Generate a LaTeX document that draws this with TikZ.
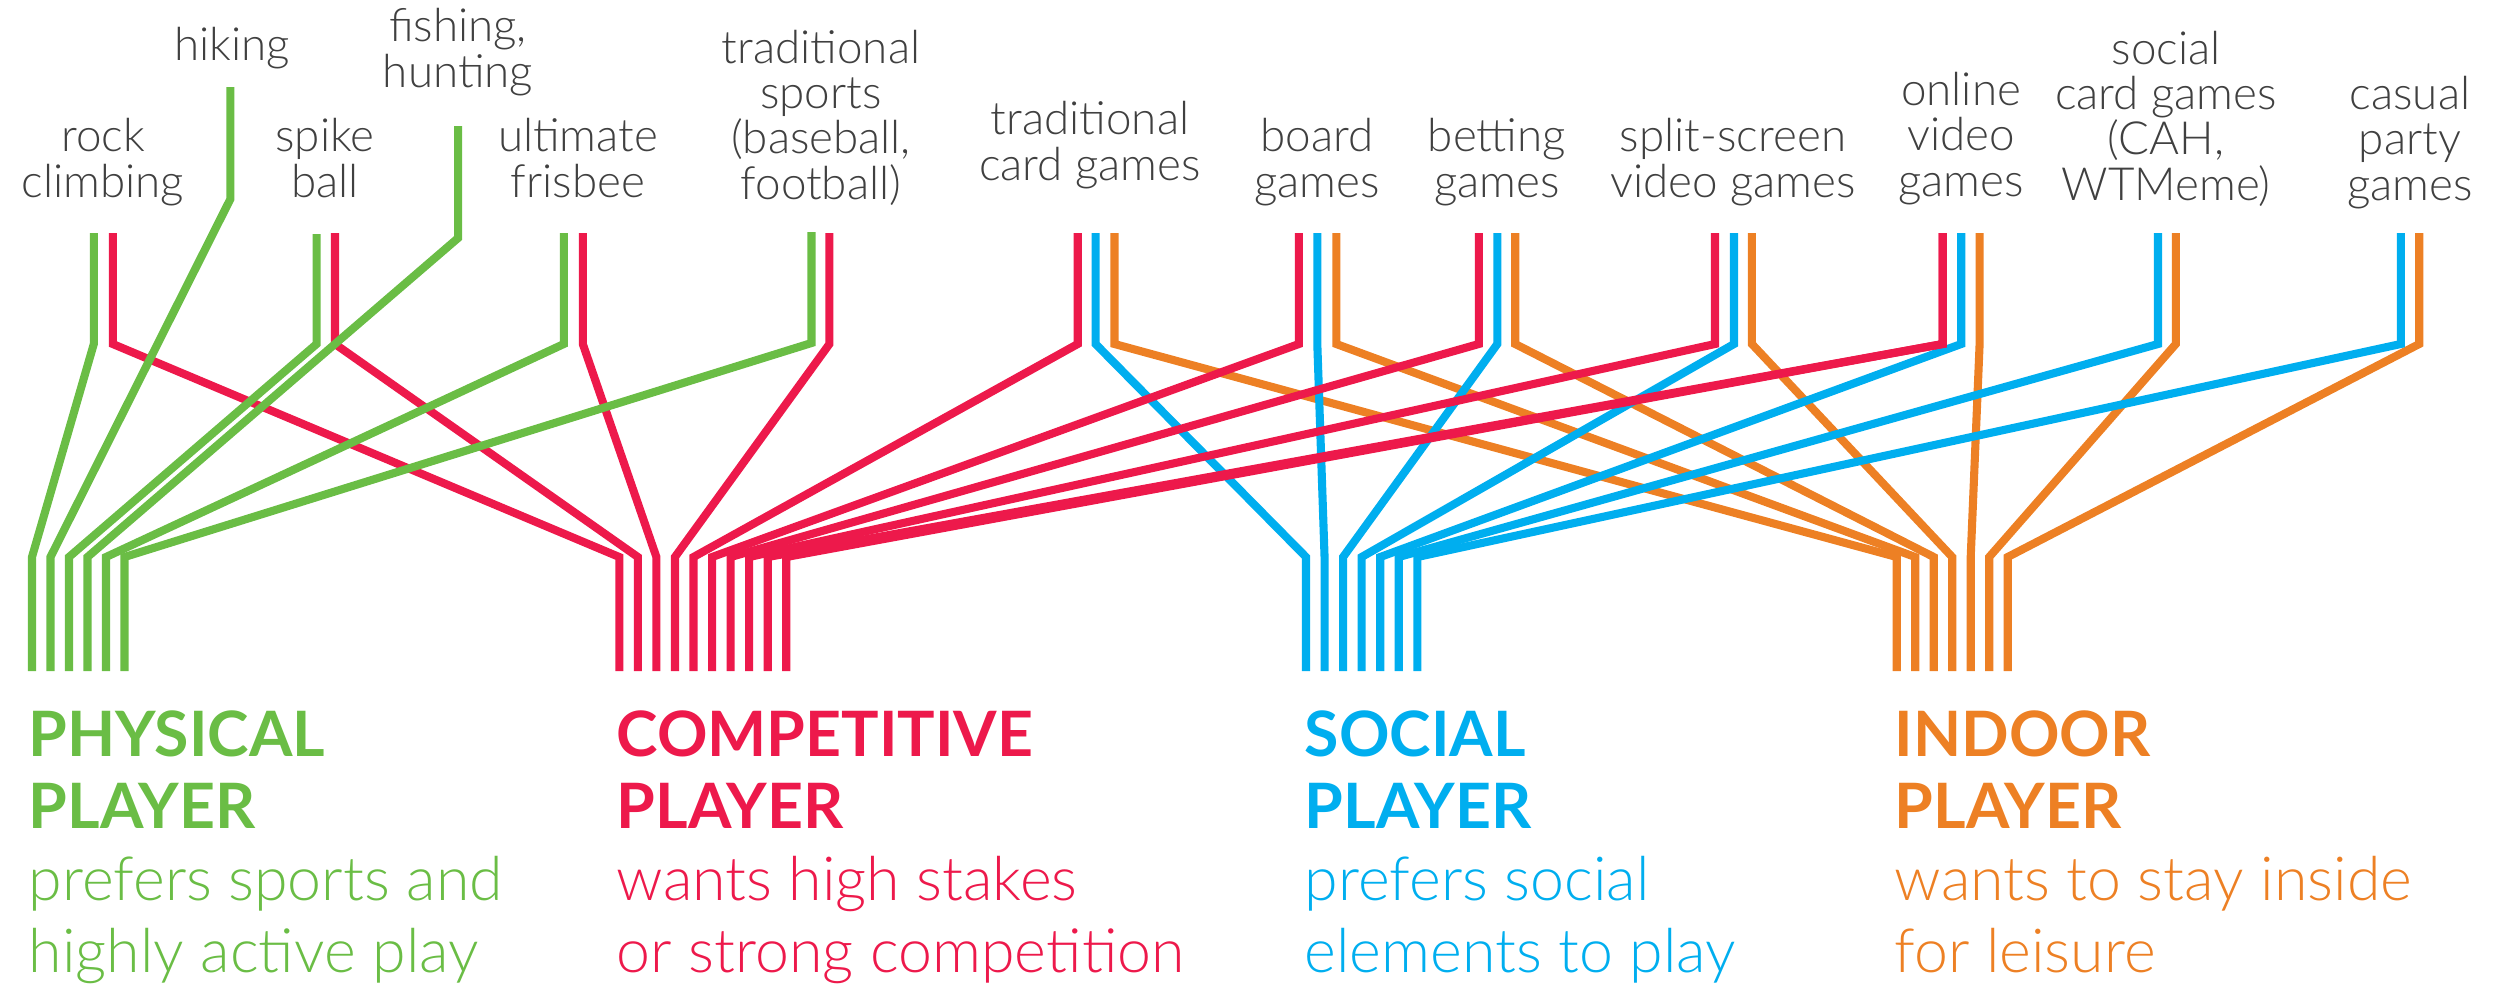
\documentclass[tikz,border=0pt]{standalone}
\usepackage{fontspec}
\setmainfont{Lato}
\newfontfamily\lightfont{Lato Light}
\definecolor{grn}{RGB}{106,189,69}
\definecolor{rd}{RGB}{237,25,75}
\definecolor{blu}{RGB}{0,174,239}
\definecolor{org}{RGB}{237,128,36}
\definecolor{ink}{RGB}{64,64,64}

\begin{document}
\begin{tikzpicture}[x=0.01cm, y=-0.01cm, wire/.style={line width=2.3pt}, lbl/.style={font=\lightfont\fontsize{13}{12.8}\selectfont, text=ink, align=center, anchor=base, inner sep=0pt}, title/.style={font=\bfseries\fontsize{17.8}{20.4}\selectfont, align=left, anchor=base west, inner sep=0pt}, desc/.style={font=\lightfont\fontsize{17.3}{20.4}\selectfont, align=left, anchor=base west, inner sep=0pt}]
\useasboundingbox (0,0) rectangle (2500,987);
\node[lbl] (rock) at (103,197) {rock\\climbing};
\node[lbl] (hike) at (232,60) {hiking};
\node[lbl] (spike) at (325,197) {spike\\ball};
\node[lbl] (fish) at (458,87) {fishing,\\hunting};
\node[lbl] (fris) at (578,197) {ultimate\\frisbee};
\node[lbl] (sport) at (821,199) {traditional\\sports\\(baseball,\\football)};
\node[lbl] (card) at (1090,180) {traditional\\card games};
\node[lbl] (board) at (1317,197) {board\\games};
\node[lbl] (bet) at (1497,197) {betting\\games};
\node[lbl] (split) at (1733,197) {split-screen\\video games};
\node[lbl] (online) at (1961,196) {online\\video\\games};
\node[lbl] (soc) at (2166,200) {social\\card games\\(CAH,\\WTMeme)};
\node[lbl] (party) at (2410,200) {casual\\party\\games};
\foreach \i in {1,...,6} \coordinate (g\i) at ({32+18.5*(\i-1)},671);
\foreach \i in {1,...,10} \coordinate (r\i) at ({619.3+18.55*(\i-1)},671);
\foreach \i in {1,...,7} \coordinate (b\i) at ({1306+18.55*(\i-1)},671);
\foreach \i in {1,...,7} \coordinate (o\i) at ({1896.7+18.5*(\i-1)},671);
\foreach \n/\x/\e in {cardO/1114.5/o1, boardO/1336.3/o2, betO/1515.2/o3, splitO/1751.9/o4, onlineO/1979.6/o5, socO/2175.8/o6, partyO/2419.2/o7}
  {\coordinate (\n) at (\x,233); \draw[wire,org] (\n) -- (\n |- 0,344) -- (\e |- 0,557) -- (\e);}
\foreach \n/\x/\e in {cardB/1095.6/b1, boardB/1317.3/b2, betB/1497.3/b3, splitB/1734/b4, onlineB/1961.2/b5, socB/2158/b6, partyB/2400.8/b7}
  {\coordinate (\n) at (\x,233); \draw[wire,blu] (\n) -- (\n |- 0,344) -- (\e |- 0,557) -- (\e);}
\foreach \n/\x/\e in {rockR/112.8/r1, spikeR/335/r2, frisR/582.8/r3, sportR/829.4/r4, cardR/1077.7/r5, boardR/1298.9/r6, betR/1478.8/r7, splitR/1715/r8, onlineR/1942.7/r9}
  {\coordinate (\n) at (\x,233); \draw[wire,rd] (\n) -- (\n |- 0,344) -- (\e |- 0,557) -- (\e);}
\draw[wire,rd] (onlineR) -- (onlineR |- 0,344) -- (r10 |- 0,557) -- (r10);
\foreach \n/\x/\t/\k/\e in {rockG/93.8/233/344/g1, hikeG/230.4/87/199/g2, spikeG/316.6/234/344/g3, fishG/458.1/126/238/g4, frisG/563.8/233/344/g5, sportG/811.5/232/343/g6}
  {\coordinate (\n) at (\x,\t); \draw[wire,grn] (\n) -- (\n |- 0,\k) -- (\e |- 0,557) -- (\e);}
\node[title, text=grn] (physT) at (28,828) {PHYSICAL\\PLAYER};
\node[desc, text=grn] (physD) at (28,972) {prefers sports and\\highly active play};
\node[title, text=rd] (compT) at (616,828) {COMPETITIVE\\PLAYER};
\node[desc, text=rd] (compD) at (616,972) {wants high stakes\\or strong competition};
\node[title, text=blu] (socT) at (1304,828) {SOCIAL\\PLAYER};
\node[desc, text=blu] (socD) at (1304,972) {prefers social\\elements to play};
\node[title, text=org] (indT) at (1894,828) {INDOOR\\PLAYER};
\node[desc, text=org] (indD) at (1894,972) {wants to stay inside\\for leisure};
\end{tikzpicture}
\end{document}
